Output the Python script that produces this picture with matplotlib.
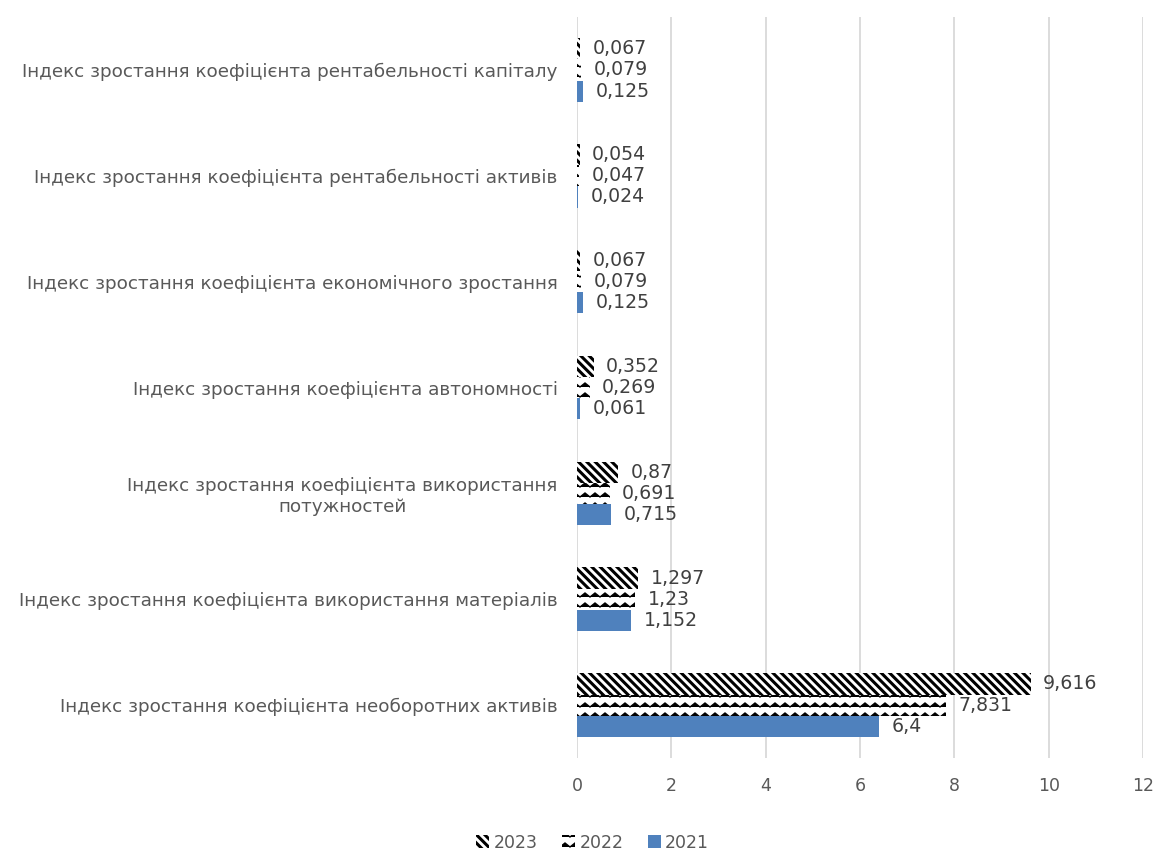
import warnings
import numpy as np
import matplotlib
matplotlib.use("Agg")
import matplotlib.pyplot as plt
import matplotlib.hatch as mhatch
from matplotlib.path import Path

warnings.filterwarnings("ignore")

categories = [
    "Індекс зростання коефіцієнта необоротних активів",
    "Індекс зростання коефіцієнта використання матеріалів",
    "Індекс зростання коефіцієнта використання\nпотужностей",
    "Індекс зростання коефіцієнта автономності",
    "Індекс зростання коефіцієнта економічного зростання",
    "Індекс зростання коефіцієнта рентабельності активів",
    "Індекс зростання коефіцієнта рентабельності капіталу",
]
values_2021 = [6.4, 1.152, 0.715, 0.061, 0.125, 0.024, 0.125]
values_2022 = [7.831, 1.23, 0.691, 0.269, 0.079, 0.047, 0.079]
values_2023 = [9.616, 1.297, 0.87, 0.352, 0.067, 0.054, 0.067]
x_ticks = [0, 2, 4, 6, 8, 10, 12]

BACKSLASH = chr(92)


class ZigZagHatch(mhatch.HatchPatternBase):
    """Horizontal rows of small zigzags, selected by the '~' hatch character."""

    def __init__(self, hatch, density):
        self.num_rows = int(round(hatch.count("~") * density * 0.85))
        self.num_vertices = self.num_rows * (2 * self.num_rows + 1)

    def set_vertices_and_codes(self, vertices, codes):
        n = self.num_rows
        step = 1.0 / n
        amp = step * 0.2
        xs = np.linspace(0.0, 1.0, 2 * n + 1)
        ys = np.where(np.arange(2 * n + 1) % 2 == 0, -amp, amp)
        per = 2 * n + 1
        for i in range(n):
            sl = slice(i * per, (i + 1) * per)
            vertices[sl, 0] = xs
            vertices[sl, 1] = (i + 0.5) * step + ys
            codes[sl] = Path.LINETO
            codes[i * per] = Path.MOVETO


mhatch._hatch_types.append(ZigZagHatch)


def use_hatch_linewidth(artist, lw):
    """Draw an artist with its own hatch line width."""
    if hasattr(artist, "set_hatch_linewidth"):
        artist.set_hatch_linewidth(lw)
    draw = artist.draw

    def wrapped(renderer, *args, **kwargs):
        with plt.rc_context({"hatch.linewidth": lw}):
            draw(renderer, *args, **kwargs)

    artist.draw = wrapped


plt.rcParams["font.family"] = ["DejaVu Sans"]
plt.rcParams["hatch.linewidth"] = 1.5

fig = plt.figure(figsize=(11.62, 8.52), dpi=100)
ax = fig.add_axes([0.4966, 0.1103, 0.9836 - 0.4966, 0.98 - 0.1103])

y = np.arange(len(categories))
h = 0.2
text_col = "#404040"
tick_col = "#595959"

b21 = ax.barh(y - h, values_2021, height=h, color="#4f81bd", label="2021")
b22 = ax.barh(y, values_2022, height=h, facecolor="white", hatch="~~",
              edgecolor="black", linewidth=0, label="2022")
b23 = ax.barh(y + h, values_2023, height=h, facecolor="white",
              hatch=BACKSLASH * 4, edgecolor="black", linewidth=0,
              label="2023")

for bars, lw in ((b22, 1.0), (b23, 2.2)):
    for rect in bars:
        use_hatch_linewidth(rect, lw)


def fmt(v):
    return f"{v:g}".replace(".", ",")


for bars, vals in ((b21, values_2021), (b22, values_2022), (b23, values_2023)):
    for rect, v in zip(bars, vals):
        ax.annotate(fmt(v), (v, rect.get_y() + rect.get_height() / 2),
                    xytext=(9, 0), textcoords="offset points",
                    ha="left", va="center", fontsize=13.6, color=text_col)

ax.set_xlim(0, 12)
ax.set_ylim(-0.5, len(categories) - 0.5)
ax.set_xticks(x_ticks)
ax.set_xticklabels([str(t) for t in x_ticks], fontsize=12.5, color=tick_col)
ax.set_yticks(y)
ax.set_yticklabels(categories, fontsize=13.2, color=tick_col,
                   multialignment="center")
ax.tick_params(axis="both", length=0)
ax.tick_params(axis="x", pad=14)
ax.tick_params(axis="y", pad=14)
ax.grid(axis="x", color="#d9d9d9", linewidth=1.3)
ax.set_axisbelow(True)
for s in ax.spines.values():
    s.set_visible(False)

leg = fig.legend([b23, b22, b21], ["2023", "2022", "2021"], loc="center",
                 bbox_to_anchor=(0.51, 0.011), ncol=3, frameon=False,
                 fontsize=12.5, handlelength=0.75, handleheight=0.75,
                 handletextpad=0.25, columnspacing=1.4, labelcolor=tick_col,
                 borderpad=0)
for handle, lw in zip(leg.legend_handles, (2.2, 1.0, 1.0)):
    use_hatch_linewidth(handle, lw)

fig.savefig("out.png", dpi=100, facecolor="white")
